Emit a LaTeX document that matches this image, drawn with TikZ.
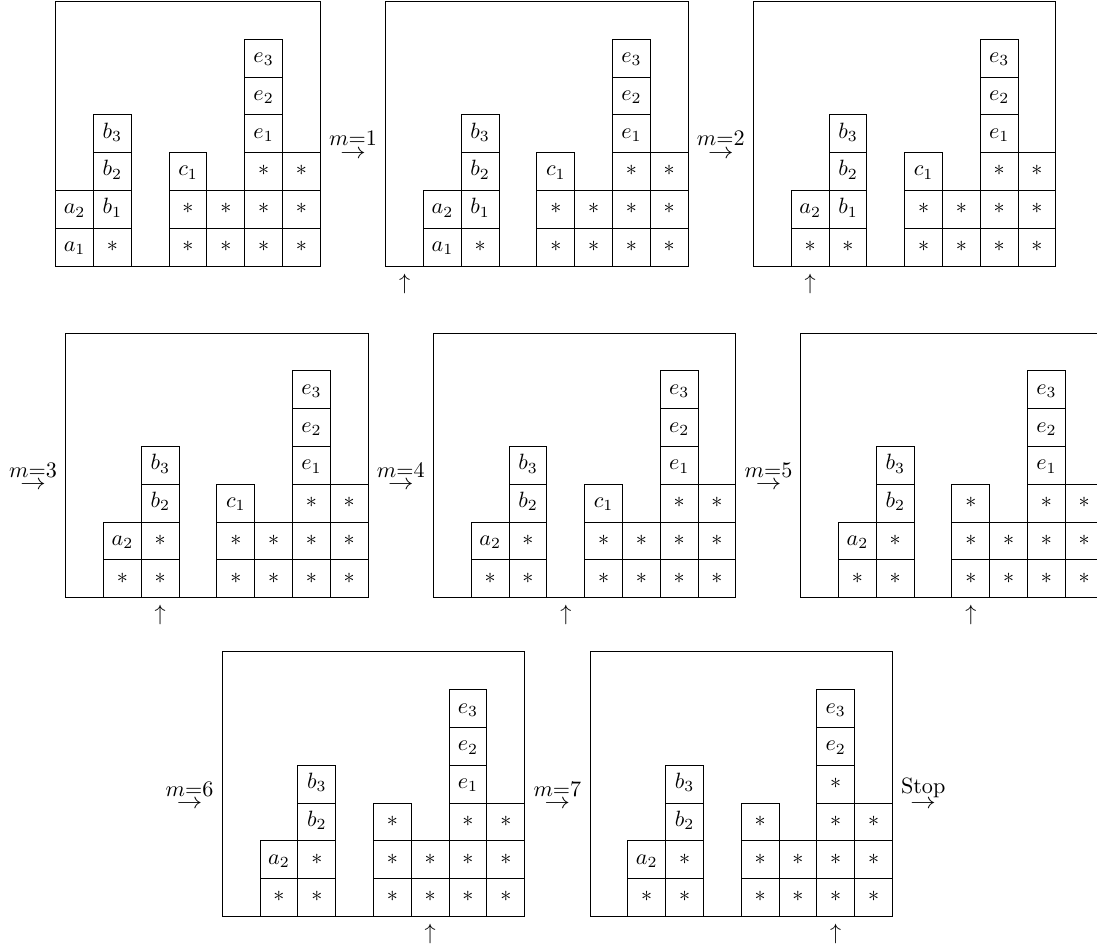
\documentclass[tikz,border=0pt]{standalone}
\usepackage{graphicx}
\newcommand\cellcol[3]{%
  \foreach \lab [count=\rowi from 0] in {#3} {%
    \node[cell] (#1-#2-\rowi) at (#2+0.5,\rowi+0.5) {$\lab$};}}
\newcommand\steparrow[1]{$\stackrel{\textstyle #1}{\hbox{\scalebox{1.15}[1]{$\rightarrow$}}}$}
\begin{document}
\begin{tikzpicture}[x=0.6cm,y=0.6cm,
  cell/.style={draw, minimum size=0.6cm, inner sep=0pt, text height=5.5pt, text depth=1.5pt, anchor=center},
  steplbl/.style={anchor=base, inner sep=0pt, yshift=-2.5pt},
  ptr/.style={anchor=north}]
\useasboundingbox (-1.474,-18.016) rectangle (27.548,7.037);

% Panel 1
\begin{scope}[shift={(0,0)}]
  \draw (0,0) rectangle (7,7);
  \cellcol{pa}{0}{a_1,a_2}
  \cellcol{pa}{1}{*,b_1,b_2,b_3}
  \cellcol{pa}{3}{*,*,c_1}
  \cellcol{pa}{4}{*,*}
  \cellcol{pa}{5}{*,*,*,e_1,e_2,e_3}
  \cellcol{pa}{6}{*,*,*}
\end{scope}

% Panel 2
\begin{scope}[shift={(8.73,0)}]
  \draw (0,0) rectangle (8,7);
  \cellcol{pb}{1}{a_1,a_2}
  \cellcol{pb}{2}{*,b_1,b_2,b_3}
  \cellcol{pb}{4}{*,*,c_1}
  \cellcol{pb}{5}{*,*}
  \cellcol{pb}{6}{*,*,*,e_1,e_2,e_3}
  \cellcol{pb}{7}{*,*,*}
  \node[ptr] (pb-ptr) at (0.5,0) {$\uparrow$};
\end{scope}

% Panel 3
\begin{scope}[shift={(18.46,0)}]
  \draw (0,0) rectangle (8,7);
  \cellcol{pc}{1}{*,a_2}
  \cellcol{pc}{2}{*,b_1,b_2,b_3}
  \cellcol{pc}{4}{*,*,c_1}
  \cellcol{pc}{5}{*,*}
  \cellcol{pc}{6}{*,*,*,e_1,e_2,e_3}
  \cellcol{pc}{7}{*,*,*}
  \node[ptr] (pc-ptr) at (1.5,0) {$\uparrow$};
\end{scope}

% Panel 4
\begin{scope}[shift={(0.265,-8.775)}]
  \draw (0,0) rectangle (8,7);
  \cellcol{pd}{1}{*,a_2}
  \cellcol{pd}{2}{*,*,b_2,b_3}
  \cellcol{pd}{4}{*,*,c_1}
  \cellcol{pd}{5}{*,*}
  \cellcol{pd}{6}{*,*,*,e_1,e_2,e_3}
  \cellcol{pd}{7}{*,*,*}
  \node[ptr] (pd-ptr) at (2.5,0) {$\uparrow$};
\end{scope}

% Panel 5
\begin{scope}[shift={(9.995,-8.775)}]
  \draw (0,0) rectangle (8,7);
  \cellcol{pe}{1}{*,a_2}
  \cellcol{pe}{2}{*,*,b_2,b_3}
  \cellcol{pe}{4}{*,*,c_1}
  \cellcol{pe}{5}{*,*}
  \cellcol{pe}{6}{*,*,*,e_1,e_2,e_3}
  \cellcol{pe}{7}{*,*,*}
  \node[ptr] (pe-ptr) at (3.5,0) {$\uparrow$};
\end{scope}

% Panel 6
\begin{scope}[shift={(19.71,-8.775)}]
  \draw (0,0) rectangle (8,7);
  \cellcol{pf}{1}{*,a_2}
  \cellcol{pf}{2}{*,*,b_2,b_3}
  \cellcol{pf}{4}{*,*,*}
  \cellcol{pf}{5}{*,*}
  \cellcol{pf}{6}{*,*,*,e_1,e_2,e_3}
  \cellcol{pf}{7}{*,*,*}
  \node[ptr] (pf-ptr) at (4.5,0) {$\uparrow$};
\end{scope}

% Panel 7
\begin{scope}[shift={(4.407,-17.209)}]
  \draw (0,0) rectangle (8,7);
  \cellcol{pg}{1}{*,a_2}
  \cellcol{pg}{2}{*,*,b_2,b_3}
  \cellcol{pg}{4}{*,*,*}
  \cellcol{pg}{5}{*,*}
  \cellcol{pg}{6}{*,*,*,e_1,e_2,e_3}
  \cellcol{pg}{7}{*,*,*}
  \node[ptr] (pg-ptr) at (5.5,0) {$\uparrow$};
\end{scope}

% Panel 8
\begin{scope}[shift={(14.137,-17.209)}]
  \draw (0,0) rectangle (8,7);
  \cellcol{ph}{1}{*,a_2}
  \cellcol{ph}{2}{*,*,b_2,b_3}
  \cellcol{ph}{4}{*,*,*}
  \cellcol{ph}{5}{*,*}
  \cellcol{ph}{6}{*,*,*,*,e_2,e_3}
  \cellcol{ph}{7}{*,*,*}
  \node[ptr] (ph-ptr) at (6.5,0) {$\uparrow$};
\end{scope}

% Step labels
\node[steplbl] (s1) at (7.865,3) {\steparrow{m{=}1}};
\node[steplbl] (s2) at (17.595,3) {\steparrow{m{=}2}};
\node[steplbl] (s3) at (-0.6,-5.775) {\steparrow{m{=}3}};
\node[steplbl] (s4) at (9.13,-5.775) {\steparrow{m{=}4}};
\node[steplbl] (s5) at (18.86,-5.775) {\steparrow{m{=}5}};
\node[steplbl] (s6) at (3.542,-14.209) {\steparrow{m{=}6}};
\node[steplbl] (s7) at (13.272,-14.209) {\steparrow{m{=}7}};
\node[steplbl] (s8) at (22.95,-14.209) {\steparrow{\mathrm{Stop}}};
\end{tikzpicture}
\end{document}
